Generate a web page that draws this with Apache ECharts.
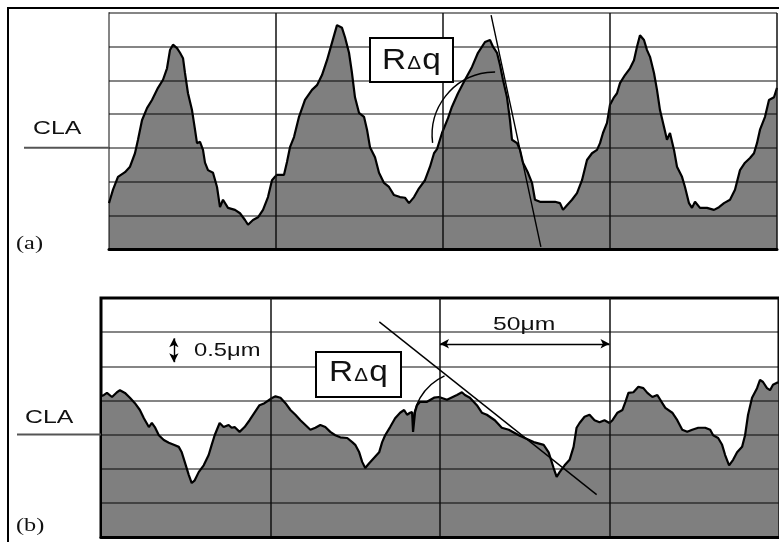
<!DOCTYPE html>
<html>
<head>
<meta charset="utf-8">
<script src="https://cdn.jsdelivr.net/npm/echarts@6/dist/echarts.min.js"></script>
<style>
  html, body { margin: 0; padding: 0; background: #fff; }
  #chart { width: 779px; height: 542px; }
</style>
</head>
<body>
<div id="chart"></div>
<script>
// Surface profiles: x = position along the surface (μm), y = height (μm).
const xTicks = [0, 50, 100, 150, 200];
const heightTicks = [0, 0.5, 1, 1.5, 2, 2.5, 3, 3.5];
const claLevel = 1.5;

// (a) periodic, steep-flanked profile
const profileA = [
  [0,0.68],[0.30,0.73],[1.20,0.88],[2.69,1.07],[4.79,1.14],[6.29,1.22],[7.78,1.42],[8.68,1.62],[9.88,1.91],[11.38,2.09],
  [12.87,2.21],[14.67,2.39],[16.17,2.51],[17.37,2.68],[18.26,2.95],[19.16,3.03],[20.36,2.98],[21.26,2.91],[22.16,2.83],[22.75,2.61],
  [23.65,2.31],[24.85,2.06],[25.75,1.77],[26.35,1.57],[27.25,1.59],[28.14,1.47],[28.74,1.28],[29.64,1.17],[31.14,1.13],[32.34,0.92],
  [33.23,0.62],[34.13,0.73],[35.63,0.61],[37.72,0.58],[39.22,0.53],[40.72,0.43],[41.62,0.36],[43.11,0.43],[44.61,0.47],[46.11,0.58],
  [47.60,0.77],[48.80,1.02],[49.70,1.07],[50.30,1.10],[52.40,1.10],[53.29,1.29],[54.19,1.51],[55.39,1.66],[56.89,1.96],[58.68,2.21],
  [60.78,2.36],[62.28,2.43],[63.77,2.58],[65.27,2.80],[66.77,3.06],[68.26,3.32],[69.76,3.28],[70.66,3.14],[71.86,2.91],[72.75,2.61],
  [73.65,2.25],[74.85,2.02],[76.35,1.96],[77.25,1.77],[78.14,1.51],[79.64,1.36],[80.84,1.13],[82.34,0.98],[83.83,0.92],[85.33,0.80],
  [87.13,0.77],[88.62,0.76],[89.82,0.68],[91.32,0.77],[92.81,0.90],[94.61,1.02],[96.11,1.22],[97.31,1.42],[98.20,1.48],[99.70,1.72],
  [101.50,1.94],[102.69,2.11],[104.49,2.31],[106.59,2.51],[108.68,2.70],[110.48,2.91],[112.57,3.07],[114.07,3.10],[114.97,3.00],[116.17,2.91],
  [117.07,2.73],[117.96,2.51],[119.16,2.25],[120.06,1.91],[120.66,1.62],[122.16,1.57],[123.05,1.47],[123.95,1.28],[125.45,1.13],[126.65,0.98],
  [127.54,0.73],[129.04,0.70],[131.14,0.70],[133.53,0.70],[135.03,0.68],[135.93,0.58],[137.13,0.65],[138.62,0.73],[140.12,0.83],[141.62,1.02],
  [143.11,1.32],[144.61,1.42],[146.11,1.47],[147.01,1.57],[147.90,1.72],[149.10,1.87],[150.00,2.14],[151.20,2.25],[152.10,2.31],[152.99,2.46],
  [154.49,2.58],[155.99,2.68],[157.18,2.80],[158.08,3.00],[158.98,3.17],[160.18,3.10],[161.08,2.95],[161.98,2.85],[163.17,2.61],[164.07,2.36],
  [164.97,2.06],[166.17,1.81],[167.06,1.62],[167.96,1.72],[169.16,1.47],[170.06,1.22],[171.56,1.07],[172.45,0.92],[173.65,0.68],[174.55,0.61],
  [175.45,0.70],[176.95,0.61],[179.04,0.61],[181.14,0.58],[182.63,0.62],[184.13,0.68],[185.93,0.73],[187.42,0.88],[188.92,1.17],[190.42,1.28],
  [191.92,1.35],[193.11,1.42],[194.01,1.57],[194.91,1.77],[196.41,1.96],[197.60,2.21],[199.10,2.25],[200.00,2.39]
];

// (b) shallower, irregular profile
const profileB = [
  [0,2.06],[0.88,2.08],[1.76,2.11],[3.24,2.05],[4.71,2.12],[5.59,2.15],[7.06,2.11],[8.53,2.04],[10.00,1.96],[11.47,1.86],
  [12.65,1.74],[14.12,1.61],[15.00,1.67],[15.88,1.61],[17.06,1.49],[18.53,1.42],[20.00,1.38],[21.47,1.35],[22.94,1.32],[23.82,1.24],
  [24.70,1.10],[25.88,0.91],[26.76,0.79],[27.65,0.83],[28.82,0.95],[30.29,1.05],[31.76,1.20],[32.65,1.35],[33.53,1.49],[35.00,1.67],
  [36.17,1.61],[37.65,1.64],[38.53,1.60],[39.41,1.61],[40.88,1.54],[42.35,1.61],[43.82,1.71],[45.29,1.82],[46.76,1.93],[48.23,1.96],
  [49.70,2.01],[50.59,2.04],[51.47,2.06],[52.94,2.04],[54.41,1.96],[55.88,1.86],[57.35,1.79],[58.82,1.71],[60.29,1.64],[61.76,1.57],
  [63.23,1.60],[64.70,1.64],[66.17,1.61],[67.64,1.54],[69.11,1.49],[70.58,1.46],[72.64,1.45],[74.11,1.39],[75.00,1.35],[76.17,1.24],
  [77.05,1.10],[77.94,1.01],[79.11,1.08],[80.58,1.16],[82.05,1.24],[82.94,1.39],[83.82,1.49],[85.29,1.61],[86.76,1.74],[88.23,1.82],
  [89.41,1.86],[90.29,1.79],[91.17,1.82],[91.76,1.83],[92.05,1.54],[92.64,1.83],[93.23,1.93],[94.11,1.98],[96.17,1.98],[98.23,2.04],
  [99.70,2.05],[102.05,2.01],[105.00,2.08],[106.46,2.12],[107.35,2.08],[108.82,2.04],[110.87,1.93],[112.34,1.82],[113.81,1.79],[116.17,1.71],
  [118.23,1.60],[120.29,1.57],[123.23,1.49],[124.99,1.45],[127.64,1.39],[130.58,1.35],[132.05,1.24],[133.52,1.01],[134.41,0.88],[135.29,0.95],
  [136.76,1.05],[138.23,1.13],[139.40,1.32],[140.29,1.60],[141.17,1.67],[142.64,1.76],[144.11,1.79],[145.58,1.71],[147.05,1.68],[148.52,1.71],
  [150.00,1.67],[150.88,1.71],[152.35,1.82],[153.82,1.86],[154.70,1.98],[155.58,2.11],[157.05,2.12],[158.52,2.20],[159.99,2.18],[161.17,2.11],
  [162.64,2.05],[164.11,2.08],[165.58,1.96],[166.46,1.89],[168.52,1.82],[169.99,1.71],[171.46,1.57],[172.93,1.54],[174.40,1.57],[176.17,1.60],
  [178.23,1.60],[179.70,1.57],[180.58,1.49],[182.05,1.45],[183.22,1.35],[184.11,1.20],[185.28,1.05],[186.46,1.13],[187.64,1.24],[189.11,1.32],
  [189.99,1.49],[190.87,1.79],[192.05,2.04],[193.52,2.18],[194.40,2.30],[195.29,2.27],[196.46,2.18],[197.35,2.15],[198.23,2.23],[199.40,2.26],
  [200.00,2.26]
];

// Slope (RΔq) construction lines and the centres of their angle arcs
const slopeLineA = [[114.4, 3.47], [129.3, 0.03]];
const slopeLineB = [[82.1, 3.15], [146.2, 0.62]];
const slopeArcCentreA = [[115.6, 1.69]];
const slopeArcCentreB = [[107.9, 1.64]];

// Scale bars: horizontal 50 μm span, vertical 0.5 μm step
const spanBar = [[100, 2.83], [150, 2.83]];
const stepBar = [[21.5, 2.56], [21.5, 2.91]];

const ink = '#111';
const fillGrey = '#7f7f7f';
const gridGrey = 'rgba(0,0,0,0.48)';
const sans = '"Liberation Sans", Arial, sans-serif';
const serif = '"Liberation Serif", "Times New Roman", serif';

const chart = echarts.init(document.getElementById('chart'), null, { renderer: 'canvas' });

function xAxisFor(gridIndex, showMin) {
  return {
    type: 'value', gridIndex,
    min: xTicks[0], max: xTicks[xTicks.length - 1], interval: xTicks[1] - xTicks[0],
    z: 3,
    axisLabel: { show: false }, axisTick: { show: false },
    axisLine: { show: true, onZero: false, lineStyle: { color: '#000', width: 3 } },
    splitLine: { show: true, showMinLine: showMin, showMaxLine: true, lineStyle: { color: ink, width: 1.5 } }
  };
}
function yAxisFor(gridIndex, edgeColor) {
  return {
    type: 'value', gridIndex,
    min: heightTicks[0], max: heightTicks[heightTicks.length - 1], interval: heightTicks[1] - heightTicks[0],
    z: 3,
    axisLabel: { show: false }, axisTick: { show: false },
    axisLine: { show: true, lineStyle: { color: edgeColor, width: 2 } },
    splitLine: { show: true, lineStyle: { color: gridGrey, width: 2 } }
  };
}
function profileSeries(idx, data) {
  return {
    type: 'line', xAxisIndex: idx, yAxisIndex: idx, data,
    symbol: 'none', z: 2, silent: true,
    lineStyle: { color: '#000', width: 2.2 },
    areaStyle: { color: fillGrey, opacity: 1, origin: 'start' }
  };
}
function slopeSeries(idx, data, extra) {
  return Object.assign({
    type: 'line', xAxisIndex: idx, yAxisIndex: idx, data,
    symbol: 'none', z: 6, silent: true,
    lineStyle: { color: '#000', width: 1.4 }
  }, extra || {});
}
function arcSeries(idx, data, radius, startAngle, endAngle) {
  return {
    type: 'custom', xAxisIndex: idx, yAxisIndex: idx, data, z: 6, silent: true,
    renderItem: function (params, api) {
      const c = api.coord([api.value(0), api.value(1)]);
      return {
        type: 'arc',
        shape: { cx: c[0], cy: c[1], r: radius, startAngle, endAngle, clockwise: true },
        style: { stroke: '#000', fill: 'none', lineWidth: 1.4 }
      };
    }
  };
}

const option = {
  animation: false,
  backgroundColor: '#fff',
  grid: [
    { left: 109, top: 13, width: 668, height: 236, show: false },
    { left: 101, top: 298, width: 680, height: 239, show: true, borderColor: '#000', borderWidth: 3, backgroundColor: 'transparent' }
  ],
  xAxis: [xAxisFor(0, false), xAxisFor(1, true)],
  yAxis: [yAxisFor(0, gridGrey), yAxisFor(1, '#000')],
  series: [
    profileSeries(0, profileA),
    profileSeries(1, profileB),
    slopeSeries(0, slopeLineA),
    slopeSeries(1, slopeLineB, {
      markLine: {
        silent: true,
        symbol: ['arrow', 'arrow'],
        symbolSize: [7, 9],
        label: { show: false },
        lineStyle: { color: '#000', width: 1.4, type: 'solid' },
        emphasis: { disabled: true },
        data: [
          [{ coord: spanBar[0] }, { coord: spanBar[1] }],
          [{ coord: stepBar[0] }, { coord: stepBar[1] }]
        ]
      }
    }),
    arcSeries(0, slopeArcCentreA, 63, Math.PI * 0.96, Math.PI * 1.5),
    arcSeries(1, slopeArcCentreB, 54, Math.PI * 0.97, Math.PI * 1.365)
  ]
};
chart.setOption(option);

// Annotation text, boxes and the CLA reference lines running out to the labels
const claA = chart.convertToPixel({ gridIndex: 0 }, [0, claLevel]);
const claB = chart.convertToPixel({ gridIndex: 1 }, [0, claLevel]);

function label(text, x, y, size, scaleX, family) {
  return {
    type: 'text', x, y, scaleX, z: 20, silent: true,
    style: { text, font: size + 'px ' + family, fill: ink,
             align: 'left', textAlign: 'left', verticalAlign: 'middle', textVerticalAlign: 'middle' }
  };
}
function slopeBox(x, y, w, h, textY) {
  return [
    { type: 'rect', z: 20, silent: true, shape: { x, y, width: w, height: h },
      style: { fill: '#fff', stroke: '#000', lineWidth: 2 } },
    { type: 'text', z: 21, silent: true, x: x + w / 2, y: textY, scaleX: 1.15,
      style: {
        text: '{r|R}{d|Δ}{q|q}', fill: ink,
        align: 'center', textAlign: 'center', verticalAlign: 'middle', textVerticalAlign: 'middle',
        rich: {
          r: { fontSize: 29, fontFamily: sans, fill: ink, verticalAlign: 'bottom' },
          d: { fontSize: 18, fontFamily: sans, fill: ink, verticalAlign: 'bottom', padding: [0, 1, 2, 1] },
          q: { fontSize: 29, fontFamily: sans, fill: ink, verticalAlign: 'bottom' }
        }
      } }
  ];
}

chart.setOption({
  graphic: [
    { type: 'rect', z: 1, silent: true, shape: { x: 8, y: 8, width: 900, height: 700 },
      style: { fill: 'none', stroke: '#000', lineWidth: 2 } },
    { type: 'line', z: 4, silent: true, shape: { x1: 24, y1: claA[1], x2: claA[0], y2: claA[1] },
      style: { stroke: '#555', lineWidth: 2 } },
    { type: 'line', z: 4, silent: true, shape: { x1: 17, y1: claB[1], x2: claB[0], y2: claB[1] },
      style: { stroke: '#555', lineWidth: 2 } },
    label('CLA', 33, 129, 18, 1.38, sans),
    label('CLA', 25, 418, 18, 1.38, sans),
    label('(a)', 16, 244, 18, 1.35, serif),
    label('(b)', 16, 526, 18, 1.35, serif),
    label('0.5μm', 194, 351, 19, 1.25, sans),
    label('50μm', 493, 325, 19, 1.3, sans)
  ].concat(slopeBox(370, 38, 83, 44, 61), slopeBox(316, 352, 85, 45, 373))
});
</script>
</body>
</html>
